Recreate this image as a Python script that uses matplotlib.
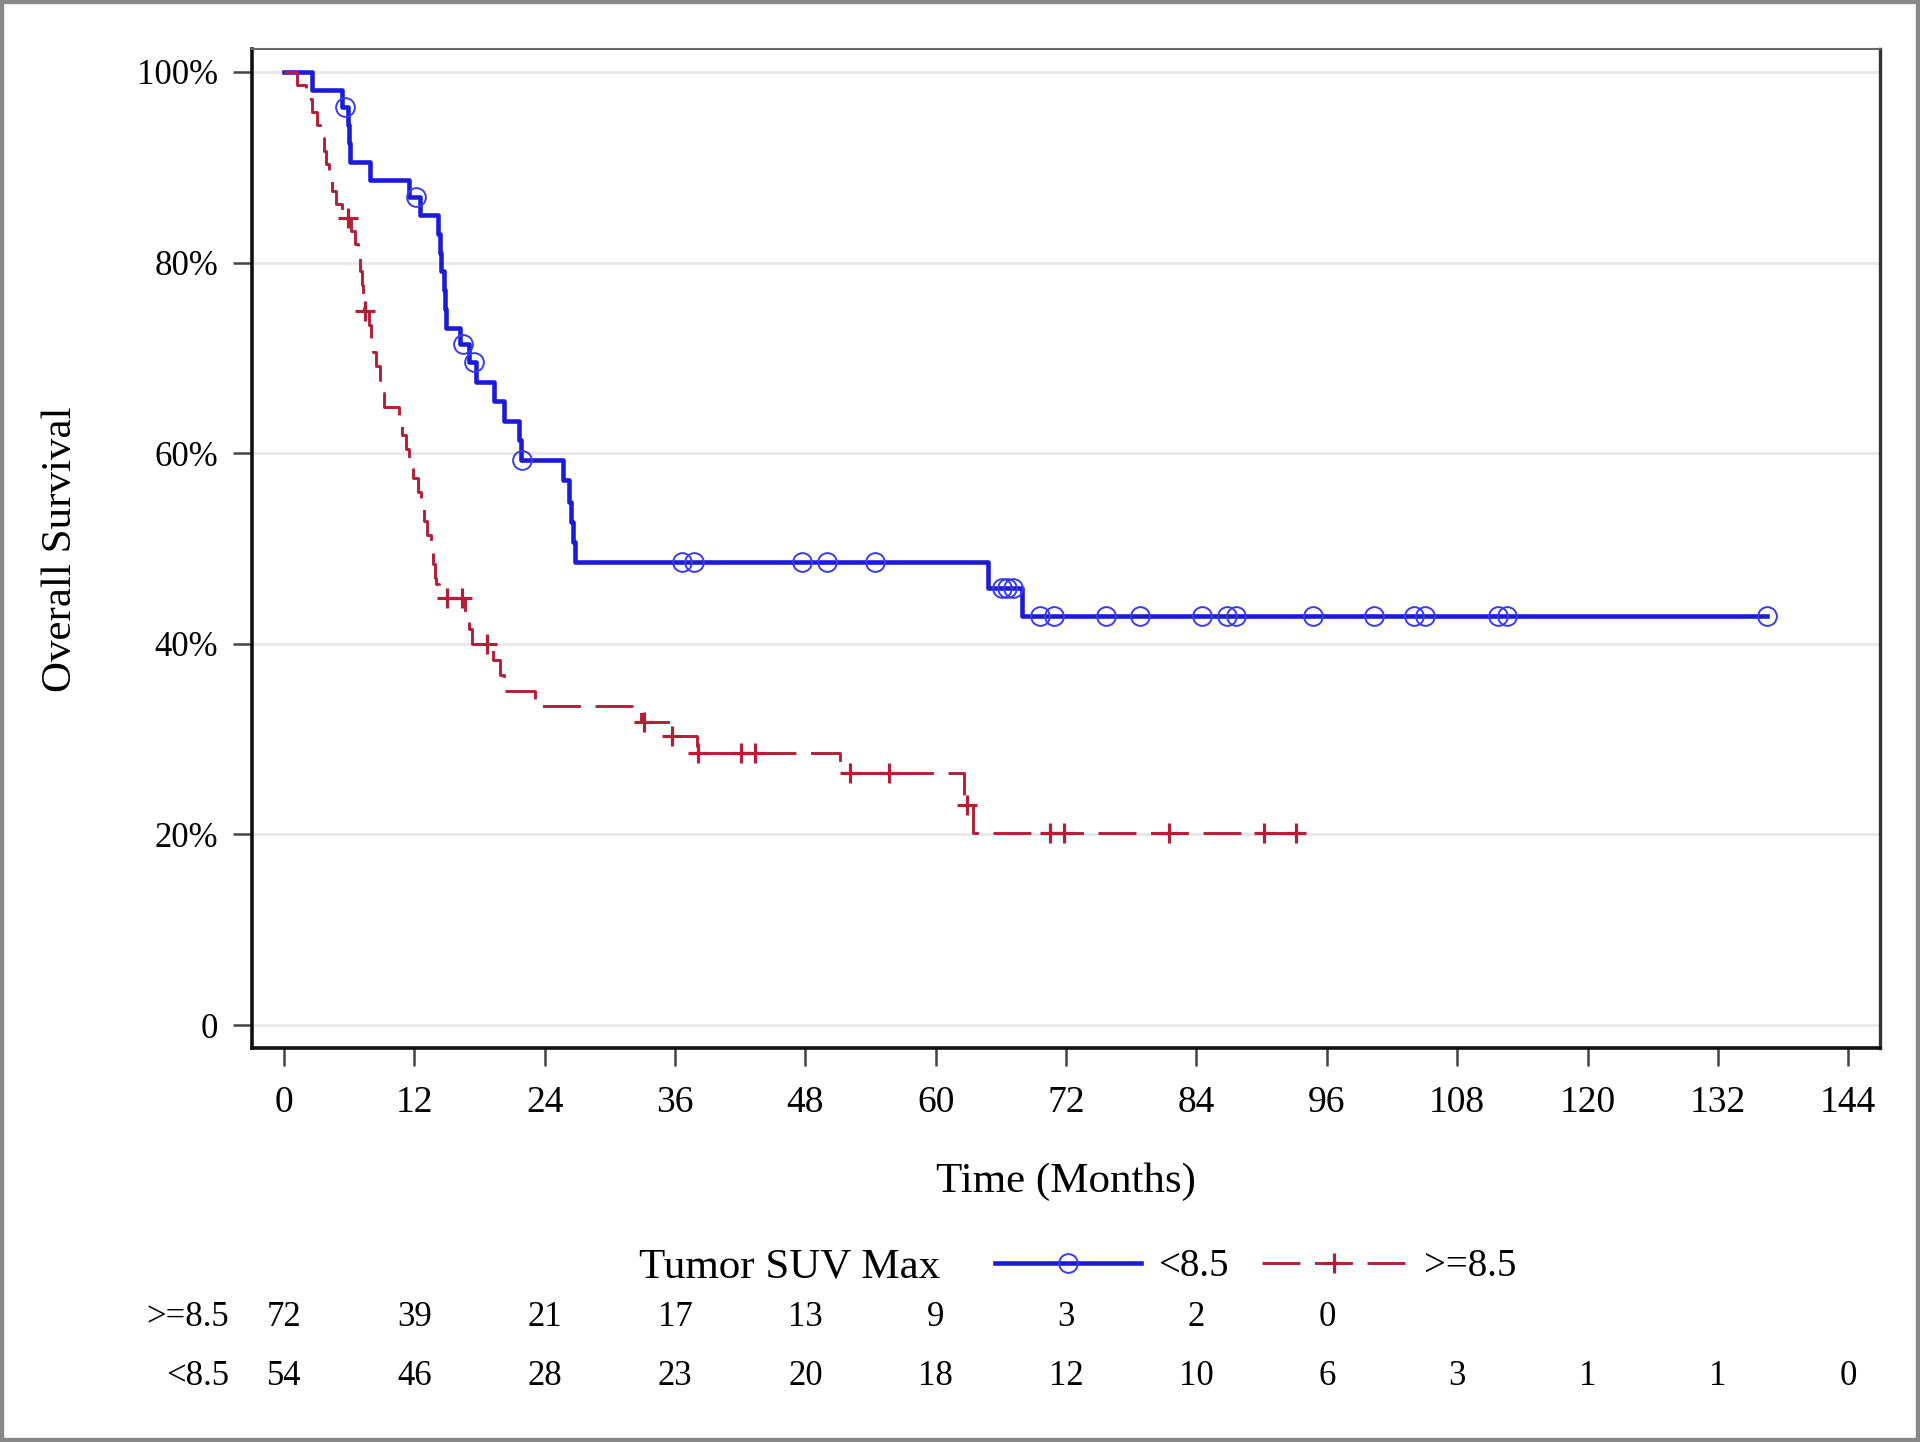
import matplotlib
matplotlib.use('Agg')
import matplotlib.pyplot as plt
from matplotlib.lines import Line2D
from matplotlib.patches import Rectangle
from matplotlib.transforms import blended_transform_factory

plt.rcParams['font.family'] = ['Liberation Serif', 'DejaVu Serif']

# Kaplan-Meier step curves (time in months, survival in %)
blue_time = [0, 2.6, 5.3, 5.9, 6.0, 6.1, 7.9, 11.5, 12.5, 14.2, 14.4, 14.5, 14.7, 14.8, 14.9,
             16.2, 17.0, 17.7, 19.3, 20.3, 21.6, 21.8, 25.7, 26.2, 26.4, 26.6, 26.8, 64.8, 67.9, 136.5]
blue_surv = [100, 98.1, 96.3, 94.4, 92.5, 90.6, 88.7, 86.9, 85.0, 83.0, 81.0, 79.1, 77.1, 75.1, 73.1,
             71.5, 69.6, 67.5, 65.5, 63.4, 61.4, 59.3, 57.2, 54.9, 52.8, 50.7, 48.6, 45.9, 42.9, 42.9]
blue_cens_time = [5.6, 12.2, 16.5, 17.5, 21.9, 36.6, 37.7, 47.7, 50.0, 54.4, 66.1, 66.6, 67.1,
                  69.6, 70.9, 75.7, 78.8, 84.5, 86.8, 87.6, 94.7, 100.3, 104.0, 105.0, 111.8, 112.6, 136.5]
blue_cens_surv = [96.3, 86.9, 71.5, 69.6, 59.3, 48.6, 48.6, 48.6, 48.6, 48.6, 45.9, 45.9, 45.9,
                  42.9, 42.9, 42.9, 42.9, 42.9, 42.9, 42.9, 42.9, 42.9, 42.9, 42.9, 42.9, 42.9, 42.9]

red_time = [0, 1.2, 2.0, 2.6, 3.0, 3.3, 3.7, 3.9, 4.1, 4.4, 4.8, 5.3, 6.2, 6.5, 6.8, 7.0, 7.2, 7.3, 7.4,
            7.8, 8.0, 8.2, 8.5, 8.8, 9.0, 9.2, 10.6, 10.9, 11.2, 11.5, 11.9, 12.3, 12.6, 12.9, 13.2,
            13.5, 13.7, 13.9, 14.0, 14.3, 16.7, 17.0, 17.3, 19.2, 19.9, 20.3, 23.1, 32.9, 35.5, 38.0,
            51.2, 62.6, 63.4, 93.2]
red_surv = [100, 98.6, 97.2, 95.8, 94.4, 93.1, 91.7, 90.3, 88.9, 87.5, 86.1, 84.7, 83.3, 81.9, 80.5,
            79.1, 77.7, 76.3, 74.9, 73.4, 72.0, 70.6, 69.2, 67.7, 66.3, 64.9, 63.4, 61.9, 60.4, 58.9,
            57.4, 55.9, 54.4, 52.9, 51.4, 49.9, 48.4, 46.9, 46.3, 44.8, 43.2, 41.6, 40.0, 38.3, 36.7,
            35.1, 33.5, 31.8, 30.3, 28.5, 26.4, 23.1, 20.1, 20.1]
red_cens_time = [5.9, 7.5, 15.0, 16.4, 18.7, 33.1, 35.7, 38.1, 42.1, 43.4, 52.1, 55.7, 62.9,
                 70.5, 71.8, 81.5, 90.2, 93.2]
red_cens_surv = [84.7, 74.9, 44.8, 44.8, 40.0, 31.8, 30.3, 28.5, 28.5, 28.5, 26.4, 26.4, 23.1,
                 20.1, 20.1, 20.1, 20.1, 20.1]

# numbers at risk
risk_times = [0, 12, 24, 36, 48, 60, 72, 84, 96, 108, 120, 132, 144]
risk_hi = [72, 39, 21, 17, 13, 9, 3, 2, 0]
risk_lo = [54, 46, 28, 23, 20, 18, 12, 10, 6, 3, 1, 1, 0]

x_ticks = [0, 12, 24, 36, 48, 60, 72, 84, 96, 108, 120, 132, 144]
y_ticks = [0, 20, 40, 60, 80, 100]
y_ticklabels = ['0', '20%', '40%', '60%', '80%', '100%']

blue = '#1c1cd6'
red = '#b31f38'

W, H = 1920, 1442
fig = plt.figure(figsize=(W / 100, H / 100), dpi=100)
ax = fig.add_axes([251.7 / W, 1 - 1048.3 / H, (1880 - 251.7) / W, (1048.3 - 49.3) / H])

ax.step(blue_time, blue_surv, where='post', color=blue, lw=3.3, zorder=3)
ax.plot(blue_cens_time, blue_cens_surv, ls='none', marker='o', ms=13.5, mfc='none',
        mec='#3a3aee', mew=1.4, zorder=4)
ax.step(red_time, red_surv, where='post', color=red, lw=2.1, dashes=(13, 5), zorder=3)
ax.plot(red_cens_time, red_cens_surv, ls='none', marker='+', ms=15, mec=red, mew=2.3, zorder=4)

ax.set_xlim(-2.97, 146.92)
ax.set_ylim(-2.44, 102.38)
ax.set_xticks(x_ticks)
ax.set_yticks(y_ticks)
ax.set_yticklabels(y_ticklabels)
ax.tick_params(axis='x', labelsize=27, length=13, width=1.8, color='#444444', pad=14)
ax.tick_params(axis='y', labelsize=25, length=14, width=1.8, color='#444444', pad=10)
ax.grid(axis='y', color='#e8e8e8', lw=2)
ax.set_axisbelow(True)

for side in ['left', 'bottom']:
    ax.spines[side].set_linewidth(2.6)
    ax.spines[side].set_color('#111111')
ax.spines['top'].set_linewidth(1.5)
ax.spines['top'].set_color('#666666')
ax.spines['right'].set_linewidth(2.4)
ax.spines['right'].set_color('#333333')

ax.set_xlabel('Time (Months)', fontsize=31)
ax.xaxis.set_label_coords(0.5, -0.134)
ax.xaxis.label.set_va('center')
ax.set_ylabel('Overall Survival', fontsize=31)
ax.yaxis.set_label_coords(-0.117, 0.5)
ax.yaxis.label.set_va('center')

# legend
fig.text(940 / W, 1 - 1267 / H, 'Tumor SUV Max', fontsize=31, ha='right', va='center')
handles = [
    Line2D([], [], color=blue, lw=3.3, marker='o', ms=13.5, mfc='none', mec='#3a3aee', mew=1.4),
    Line2D([], [], color=red, lw=2.1, dashes=(13, 5), marker='+', ms=15, mec=red, mew=2.3),
]
fig.legend(handles, ['<8.5', '>=8.5'], ncol=2, loc='center left',
           bbox_to_anchor=(995 / W, 1 - 1267 / H), frameon=False, fontsize=28,
           handlelength=3.75, handletextpad=0.44, columnspacing=0.85,
           borderpad=0, borderaxespad=0, numpoints=1)

# at-risk table
tr = blended_transform_factory(ax.transData, fig.transFigure)
y_hi = 1 - 1317.6 / H
y_lo = 1 - 1376.4 / H
fig.text(229 / W, y_hi, '>=8.5', fontsize=25, ha='right', va='center')
fig.text(229 / W, y_lo, '<8.5', fontsize=25, ha='right', va='center')
for t, n in zip(risk_times, risk_hi):
    ax.text(t, y_hi, str(n), transform=tr, fontsize=25, ha='center', va='center', clip_on=False)
for t, n in zip(risk_times, risk_lo):
    ax.text(t, y_lo, str(n), transform=tr, fontsize=25, ha='center', va='center', clip_on=False)

# outer border
fig.patches.append(Rectangle((0, 0), 1, 1, transform=fig.transFigure, fill=False,
                             ec='#888888', lw=6))

fig.savefig('out.png', dpi=100)
